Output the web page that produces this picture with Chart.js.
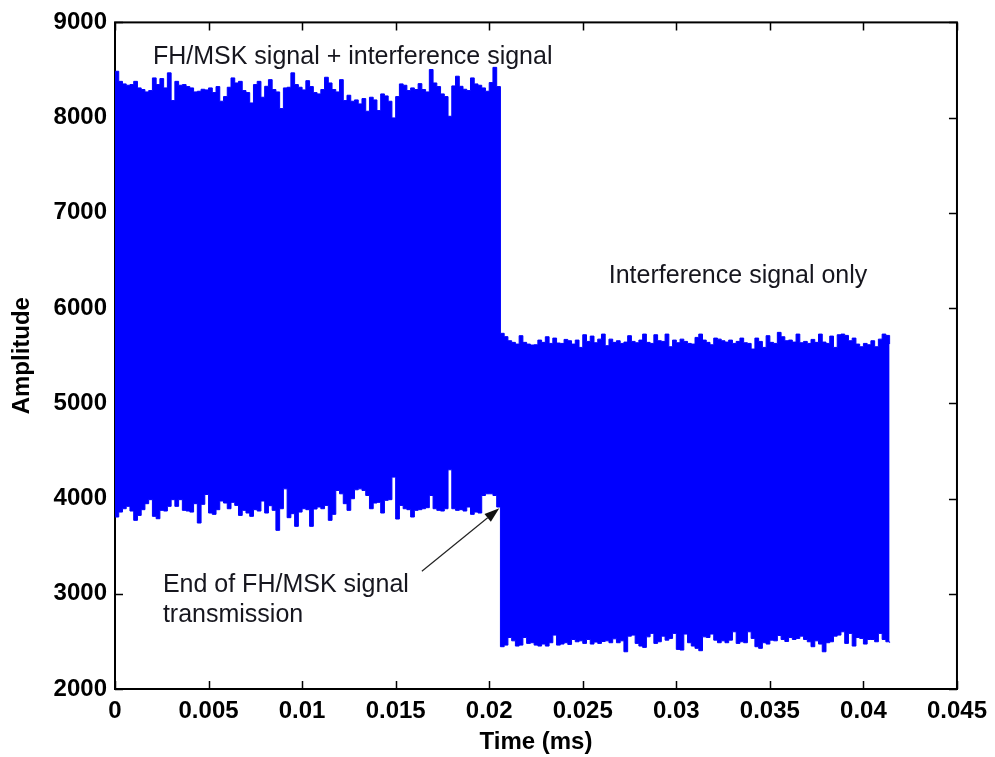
<!DOCTYPE html>
<html>
<head>
<meta charset="utf-8">
<title>FH/MSK signal amplitude</title>
<script src="https://cdn.jsdelivr.net/npm/chart.js@4.4.1/dist/chart.umd.min.js"></script>
<style>
  html, body { margin: 0; padding: 0; background: #ffffff; }
  #wrap { width: 995px; height: 757px; }
</style>
</head>
<body>
<div id="wrap"><canvas id="chart" width="995" height="757"></canvas></div>
<script>
// Sample spacing of the envelope readings, in ms
const SAMPLE_STEP_MS = 0.0002;

// Envelope of the received signal while the FH/MSK burst and the interferer overlap
const combinedUpper = [
  8487, 8381, 8354, 8340, 8347, 8381, 8312, 8295, 8270, 8284,
  8417, 8347, 8410, 8312, 8470, 8179, 8381, 8340, 8347, 8326,
  8312, 8270, 8277, 8298, 8291, 8312, 8263, 8326, 8172, 8221,
  8319, 8417, 8364, 8381, 8284, 8263, 8154, 8347, 8381, 8214,
  8329, 8399, 8295, 8270, 8095, 8312, 8319, 8470, 8347, 8319,
  8291, 8388, 8326, 8263, 8249, 8295, 8424, 8364, 8295, 8270,
  8399, 8179, 8235, 8172, 8186, 8144, 8200, 8067, 8214, 8186,
  8074, 8249, 8228, 8172, 7997, 8221, 8354, 8340, 8284, 8312,
  8295, 8357, 8295, 8270, 8505, 8364, 8326, 8249, 8221, 8014,
  8333, 8435, 8329, 8298, 8284, 8417, 8354, 8340, 8312, 8277,
  8368, 8528, 8326
];
const combinedLower = [
  3806, 3858, 3893, 3918, 3869, 3771, 3823, 3883, 3946, 3988,
  3813, 3788, 3876, 3869, 3918, 3988, 3918, 3988, 3876, 3869,
  3858, 3946, 3743, 3939, 4043, 3848, 3834, 3883, 3974, 3953,
  3893, 3960, 3928, 3823, 3876, 3848, 3813, 3883, 3869, 3974,
  3848, 3925, 3876, 3666, 3893, 4102, 3799, 3841, 3708, 3858,
  3893, 3883, 3708, 3890, 3911, 3893, 3928, 3771, 3834, 4085,
  4050, 3946, 3876, 3998, 4092, 4102, 4085, 4032, 3893, 3953,
  3960, 3848, 3981, 3988, 4225, 3785, 3928, 3893, 3883, 3806,
  3876, 3883, 3893, 3904, 4032, 3893, 3876, 3869, 3893, 4302,
  3893, 3876, 3883, 3869, 3911, 3834, 3858, 3848, 4032, 4050,
  4050, 4032, 3911
];

// Envelope once only the interference signal remains
const interferenceUpper = [
  5735, 5700, 5657, 5640, 5622, 5710, 5640, 5622, 5612, 5615,
  5664, 5640, 5699, 5629, 5685, 5633, 5629, 5671, 5657, 5622,
  5664, 5587, 5720, 5650, 5706, 5636, 5674, 5727, 5605, 5674,
  5640, 5657, 5629, 5643, 5710, 5650, 5636, 5664, 5727, 5640,
  5629, 5720, 5657, 5650, 5727, 5594, 5664, 5636, 5674, 5650,
  5629, 5622, 5692, 5727, 5664, 5640, 5615, 5685, 5674, 5657,
  5643, 5664, 5629, 5650, 5685, 5636, 5629, 5570, 5685, 5650,
  5587, 5710, 5640, 5629, 5745, 5699, 5657, 5664, 5643, 5727,
  5636, 5650, 5629, 5671, 5640, 5727, 5643, 5629, 5706, 5587,
  5720, 5727, 5713, 5657, 5685, 5622, 5594, 5629, 5615, 5657,
  5594, 5674, 5727, 5713, 5622
];
const interferenceLower = [
  2444, 2461, 2541, 2506, 2451, 2461, 2541, 2479, 2486, 2461,
  2451, 2472, 2451, 2486, 2566, 2461, 2472, 2486, 2468, 2520,
  2496, 2506, 2479, 2520, 2472, 2493, 2479, 2499, 2506, 2486,
  2527, 2486, 2506, 2391, 2555, 2566, 2479, 2451, 2437, 2548,
  2584, 2479, 2496, 2555, 2513, 2531, 2584, 2416, 2409, 2577,
  2486, 2451, 2427, 2402, 2548, 2541, 2577, 2513, 2486, 2506,
  2486, 2513, 2601, 2479, 2496, 2486, 2601, 2531, 2444, 2427,
  2486, 2472, 2513, 2506, 2562, 2520, 2499, 2541, 2520, 2531,
  2555, 2520, 2496, 2444, 2506, 2472, 2391, 2486, 2496, 2555,
  2566, 2601, 2479, 2584, 2451, 2541, 2531, 2472, 2520, 2520,
  2496, 2584, 2520, 2496, 2486
];

// Axis tick labels
const xTickLabels = ['0', '0.005', '0.01', '0.015', '0.02', '0.025', '0.03', '0.035', '0.04', '0.045'];
const yTickLabels = ['2000', '3000', '4000', '5000', '6000', '7000', '8000', '9000'];

// Text notes placed in data coordinates (time in ms, amplitude)
const notes = [
  { text: 'FH/MSK signal + interference signal', t: 0.00203, a: 8560 },
  { text: 'Interference signal only', t: 0.02639, a: 6265 },
  { text: 'End of FH/MSK signal', t: 0.00256, a: 3017 },
  { text: 'transmission', t: 0.00256, a: 2702 }
];
const arrowFrom = { t: 0.01640, a: 3237 };
const arrowTo = { t: 0.02054, a: 3897 };

const SIGNAL_BLUE = '#0000ff';
const AXIS_FONT = { family: "'Liberation Sans', Arial, sans-serif", size: 24, weight: 'bold' };

const toPoints = arr => arr.map((v, k) => ({ x: +(k * SAMPLE_STEP_MS).toFixed(4), y: v }));
const upperPts = toPoints(combinedUpper.concat(interferenceUpper));
const lowerPts = toPoints(combinedLower.concat(interferenceLower));

// Box frame with inward tick marks on all four sides
const frameTicks = {
  id: 'frameTicks',
  beforeDatasetsDraw(chart) {
    const { ctx, chartArea: ca, scales } = chart;
    const len = 8;
    ctx.save();
    ctx.strokeStyle = '#000';
    ctx.lineWidth = 1.5;
    ctx.beginPath();
    scales.x.ticks.forEach(tk => {
      const px = Math.round(scales.x.getPixelForValue(tk.value)) + 0.5;
      ctx.moveTo(px, ca.bottom); ctx.lineTo(px, ca.bottom - len);
      ctx.moveTo(px, ca.top); ctx.lineTo(px, ca.top + len);
    });
    scales.y.ticks.forEach(tk => {
      const py = Math.round(scales.y.getPixelForValue(tk.value)) + 0.5;
      ctx.moveTo(ca.left, py); ctx.lineTo(ca.left + len, py);
      ctx.moveTo(ca.right, py); ctx.lineTo(ca.right - len, py);
    });
    ctx.stroke();
    ctx.lineWidth = 2;
    ctx.strokeRect(ca.left, ca.top, ca.right - ca.left, ca.bottom - ca.top);
    ctx.restore();
  }
};

// Text notes and the arrow marking the end of the FH/MSK transmission
const noteLayer = {
  id: 'noteLayer',
  afterDatasetsDraw(chart) {
    const { ctx, scales } = chart;
    const X = t => scales.x.getPixelForValue(t);
    const Y = a => scales.y.getPixelForValue(a);
    ctx.save();
    ctx.fillStyle = '#16161e';
    ctx.font = "25px 'Liberation Sans', Arial, sans-serif";
    ctx.textAlign = 'left';
    ctx.textBaseline = 'alphabetic';
    notes.forEach(n => ctx.fillText(n.text, X(n.t), Y(n.a)));

    const x0 = X(arrowFrom.t), y0 = Y(arrowFrom.a);
    const x1 = X(arrowTo.t), y1 = Y(arrowTo.a);
    const ang = Math.atan2(y1 - y0, x1 - x0);
    const head = 15, half = 5;
    ctx.strokeStyle = '#222';
    ctx.lineWidth = 1.2;
    ctx.beginPath();
    ctx.moveTo(x0, y0);
    ctx.lineTo(x1 - head * Math.cos(ang), y1 - head * Math.sin(ang));
    ctx.stroke();
    ctx.fillStyle = '#111';
    ctx.beginPath();
    ctx.moveTo(x1, y1);
    ctx.lineTo(x1 - head * Math.cos(ang) + half * Math.sin(ang), y1 - head * Math.sin(ang) - half * Math.cos(ang));
    ctx.lineTo(x1 - head * Math.cos(ang) - half * Math.sin(ang), y1 - head * Math.sin(ang) + half * Math.cos(ang));
    ctx.closePath();
    ctx.fill();
    ctx.restore();
  }
};

new Chart(document.getElementById('chart'), {
  type: 'line',
  data: {
    datasets: [
      {
        label: 'upper',
        data: upperPts,
        stepped: true,
        fill: '+1',
        borderColor: SIGNAL_BLUE,
        backgroundColor: SIGNAL_BLUE,
        borderWidth: 1,
        pointRadius: 0
      },
      {
        label: 'lower',
        data: lowerPts,
        stepped: true,
        fill: false,
        borderColor: SIGNAL_BLUE,
        backgroundColor: SIGNAL_BLUE,
        borderWidth: 1,
        pointRadius: 0
      }
    ]
  },
  options: {
    responsive: false,
    animation: false,
    layout: { padding: { left: 0, top: 21, right: 37, bottom: 0 } },
    plugins: {
      legend: { display: false },
      tooltip: { enabled: false }
    },
    scales: {
      x: {
        type: 'linear',
        min: 0,
        max: 0.045,
        afterFit: s => { s.height = 68; },
        afterBuildTicks: s => {
          s.ticks = xTickLabels.map(l => ({ value: parseFloat(l) }));
        },
        grid: { display: false, drawTicks: false },
        border: { display: false },
        ticks: {
          padding: 8,
          color: '#000',
          font: AXIS_FONT,
          maxRotation: 0,
          autoSkip: false,
          callback: (v, i) => xTickLabels[i]
        },
        title: {
          display: true,
          text: 'Time (ms)',
          color: '#000',
          font: AXIS_FONT,
          padding: { top: 0, bottom: 0 }
        }
      },
      y: {
        type: 'linear',
        min: 2000,
        max: 9000,
        afterFit: s => { s.width = 115; },
        afterBuildTicks: s => {
          s.ticks = yTickLabels.map(l => ({ value: parseFloat(l) }));
        },
        grid: { display: false, drawTicks: false },
        border: { display: false },
        ticks: {
          padding: 8,
          color: '#000',
          font: AXIS_FONT,
          autoSkip: false,
          callback: (v, i) => yTickLabels[i]
        },
        title: {
          display: true,
          text: 'Amplitude',
          color: '#000',
          font: AXIS_FONT,
          padding: { top: 8, bottom: 0 }
        }
      }
    }
  },
  plugins: [frameTicks, noteLayer]
});
</script>
</body>
</html>
